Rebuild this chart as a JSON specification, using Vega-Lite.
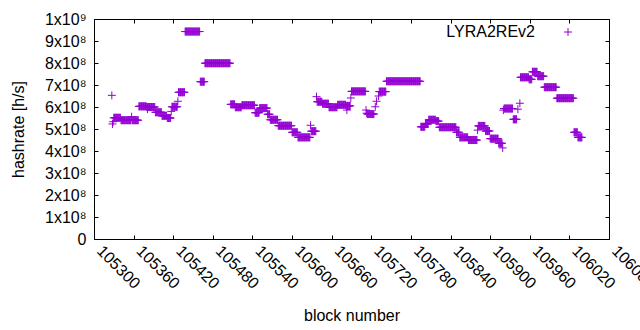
{
"$schema": "https://vega.github.io/schema/vega-lite/v6.json",
"width": 515, "height": 220,
"autosize": "none",
"padding": {"left": 94, "top": 19, "right": 31, "bottom": 91},
"background": "white",
"config": {
  "view": {"stroke": "black", "strokeWidth": 1},
  "font": "Liberation Sans",
  "axis": {"domain": false, "grid": false, "tickColor": "black", "tickSize": -4, "labelColor": "black", "labelFontSize": 16, "titleFontSize": 16, "titleFontWeight": "normal", "titleColor": "black", "labelFont": "Liberation Sans", "titleFont": "Liberation Sans"}
},
"data": {"values": [
{"b":105327,"h":6.53e8},{"b":105328,"h":5.23e8},{"b":105329,"h":5.33e8},
{"b":105330,"h":5.51e8},{"b":105331,"h":5.51e8},{"b":105332,"h":5.51e8},{"b":105333,"h":5.51e8},{"b":105334,"h":5.51e8},{"b":105335,"h":5.51e8},{"b":105336,"h":5.51e8},{"b":105337,"h":5.51e8},{"b":105338,"h":5.51e8},{"b":105339,"h":5.51e8},{"b":105340,"h":5.51e8},
{"b":105341,"h":5.40e8},{"b":105342,"h":5.40e8},{"b":105343,"h":5.40e8},{"b":105344,"h":5.40e8},{"b":105345,"h":5.40e8},{"b":105346,"h":5.40e8},{"b":105347,"h":5.40e8},{"b":105348,"h":5.40e8},{"b":105349,"h":5.40e8},{"b":105350,"h":5.40e8},{"b":105351,"h":5.40e8},{"b":105352,"h":5.40e8},{"b":105353,"h":5.40e8},{"b":105354,"h":5.40e8},{"b":105355,"h":5.40e8},{"b":105356,"h":5.40e8},
{"b":105357,"h":5.56e8},
{"b":105358,"h":5.40e8},{"b":105359,"h":5.40e8},{"b":105360,"h":5.40e8},{"b":105361,"h":5.40e8},{"b":105362,"h":5.40e8},{"b":105363,"h":5.40e8},{"b":105364,"h":5.40e8},{"b":105365,"h":5.40e8},{"b":105366,"h":5.40e8},{"b":105367,"h":5.40e8},
{"b":105368,"h":6.03e8},{"b":105369,"h":6.03e8},{"b":105370,"h":6.03e8},{"b":105371,"h":6.03e8},{"b":105372,"h":6.03e8},{"b":105373,"h":6.03e8},{"b":105374,"h":6.03e8},{"b":105375,"h":6.03e8},{"b":105376,"h":6.03e8},{"b":105377,"h":6.03e8},{"b":105378,"h":6.03e8},{"b":105379,"h":6.03e8},
{"b":105380,"h":6.00e8},{"b":105381,"h":6.00e8},{"b":105381,"h":5.90e8},{"b":105382,"h":6.00e8},{"b":105383,"h":6.00e8},{"b":105384,"h":6.00e8},{"b":105385,"h":6.00e8},{"b":105386,"h":6.00e8},{"b":105387,"h":6.00e8},{"b":105388,"h":6.00e8},{"b":105389,"h":6.00e8},{"b":105390,"h":6.00e8},{"b":105391,"h":6.00e8},{"b":105392,"h":6.00e8},
{"b":105393,"h":5.76e8},{"b":105394,"h":5.76e8},{"b":105395,"h":5.76e8},{"b":105396,"h":5.76e8},{"b":105397,"h":5.76e8},{"b":105398,"h":5.76e8},{"b":105399,"h":5.76e8},{"b":105400,"h":5.76e8},{"b":105401,"h":5.76e8},{"b":105402,"h":5.76e8},
{"b":105403,"h":5.60e8},{"b":105404,"h":5.60e8},{"b":105405,"h":5.60e8},{"b":105406,"h":5.60e8},{"b":105407,"h":5.60e8},{"b":105408,"h":5.60e8},{"b":105409,"h":5.60e8},{"b":105410,"h":5.60e8},
{"b":105411,"h":5.50e8},{"b":105412,"h":5.50e8},{"b":105413,"h":5.50e8},{"b":105414,"h":5.50e8},{"b":105415,"h":5.50e8},{"b":105416,"h":5.50e8},
{"b":105417,"h":5.80e8},
{"b":105418,"h":6.01e8},{"b":105419,"h":6.01e8},{"b":105420,"h":6.01e8},{"b":105421,"h":6.01e8},{"b":105422,"h":6.01e8},{"b":105423,"h":6.01e8},{"b":105424,"h":6.01e8},{"b":105425,"h":6.01e8},{"b":105426,"h":6.01e8},
{"b":105427,"h":6.26e8},
{"b":105428,"h":6.67e8},{"b":105429,"h":6.67e8},{"b":105430,"h":6.67e8},{"b":105431,"h":6.67e8},{"b":105432,"h":6.67e8},{"b":105433,"h":6.67e8},{"b":105434,"h":6.67e8},{"b":105435,"h":6.67e8},{"b":105436,"h":6.67e8},{"b":105437,"h":6.67e8},
{"b":105438,"h":9.43e8},{"b":105439,"h":9.43e8},{"b":105440,"h":9.43e8},{"b":105441,"h":9.43e8},{"b":105442,"h":9.43e8},{"b":105443,"h":9.43e8},{"b":105444,"h":9.43e8},{"b":105445,"h":9.43e8},{"b":105446,"h":9.43e8},{"b":105447,"h":9.43e8},{"b":105448,"h":9.43e8},{"b":105449,"h":9.43e8},{"b":105450,"h":9.43e8},{"b":105451,"h":9.43e8},{"b":105452,"h":9.43e8},{"b":105453,"h":9.43e8},{"b":105454,"h":9.43e8},{"b":105455,"h":9.43e8},{"b":105456,"h":9.43e8},{"b":105457,"h":9.43e8},{"b":105458,"h":9.43e8},{"b":105459,"h":9.43e8},{"b":105460,"h":9.43e8},
{"b":105461,"h":7.15e8},{"b":105462,"h":7.15e8},{"b":105463,"h":7.15e8},{"b":105464,"h":7.15e8},{"b":105465,"h":7.15e8},{"b":105466,"h":7.15e8},{"b":105467,"h":7.15e8},
{"b":105468,"h":7.99e8},{"b":105469,"h":7.99e8},{"b":105470,"h":7.99e8},{"b":105471,"h":7.99e8},{"b":105472,"h":7.99e8},{"b":105473,"h":7.99e8},{"b":105474,"h":7.99e8},{"b":105475,"h":7.99e8},{"b":105476,"h":7.99e8},{"b":105477,"h":7.99e8},{"b":105478,"h":7.99e8},{"b":105479,"h":7.99e8},{"b":105480,"h":7.99e8},{"b":105481,"h":7.99e8},{"b":105482,"h":7.99e8},{"b":105483,"h":7.99e8},{"b":105484,"h":7.99e8},{"b":105485,"h":7.99e8},{"b":105486,"h":7.99e8},{"b":105487,"h":7.99e8},{"b":105488,"h":7.99e8},{"b":105489,"h":7.99e8},{"b":105490,"h":7.99e8},{"b":105491,"h":7.99e8},{"b":105492,"h":7.99e8},{"b":105493,"h":7.99e8},{"b":105494,"h":7.99e8},{"b":105495,"h":7.99e8},{"b":105496,"h":7.99e8},{"b":105497,"h":7.99e8},{"b":105498,"h":7.99e8},{"b":105499,"h":7.99e8},{"b":105500,"h":7.99e8},{"b":105501,"h":7.99e8},{"b":105502,"h":7.99e8},{"b":105503,"h":7.99e8},{"b":105504,"h":7.99e8},{"b":105505,"h":7.99e8},{"b":105506,"h":7.99e8},
{"b":105507,"h":6.12e8},{"b":105508,"h":6.12e8},{"b":105509,"h":6.12e8},{"b":105510,"h":6.12e8},{"b":105511,"h":6.12e8},{"b":105512,"h":6.12e8},{"b":105513,"h":6.12e8},
{"b":105514,"h":5.99e8},{"b":105515,"h":5.99e8},{"b":105516,"h":5.99e8},{"b":105517,"h":5.99e8},{"b":105518,"h":5.99e8},{"b":105519,"h":5.99e8},{"b":105520,"h":5.99e8},{"b":105521,"h":5.99e8},{"b":105522,"h":5.99e8},{"b":105523,"h":5.99e8},
{"b":105524,"h":6.08e8},{"b":105525,"h":6.08e8},{"b":105526,"h":6.08e8},{"b":105527,"h":6.08e8},{"b":105528,"h":6.08e8},{"b":105529,"h":6.08e8},{"b":105530,"h":6.08e8},{"b":105531,"h":6.08e8},{"b":105532,"h":6.08e8},{"b":105533,"h":6.08e8},{"b":105534,"h":6.08e8},{"b":105535,"h":6.08e8},{"b":105536,"h":6.08e8},{"b":105537,"h":6.08e8},{"b":105538,"h":6.08e8},{"b":105539,"h":6.08e8},{"b":105540,"h":6.08e8},{"b":105541,"h":6.08e8},{"b":105542,"h":6.08e8},{"b":105543,"h":6.08e8},
{"b":105544,"h":5.74e8},{"b":105545,"h":5.74e8},{"b":105546,"h":5.74e8},{"b":105547,"h":5.74e8},{"b":105548,"h":5.74e8},{"b":105549,"h":5.74e8},{"b":105550,"h":5.74e8},
{"b":105551,"h":5.95e8},{"b":105552,"h":5.95e8},{"b":105553,"h":5.95e8},{"b":105554,"h":5.95e8},{"b":105555,"h":5.95e8},{"b":105556,"h":5.95e8},{"b":105557,"h":5.95e8},{"b":105558,"h":5.95e8},{"b":105559,"h":5.95e8},{"b":105560,"h":5.95e8},{"b":105561,"h":5.95e8},{"b":105562,"h":5.95e8},
{"b":105563,"h":5.67e8},{"b":105564,"h":5.67e8},{"b":105565,"h":5.67e8},{"b":105566,"h":5.67e8},
{"b":105567,"h":5.42e8},{"b":105568,"h":5.42e8},{"b":105569,"h":5.42e8},{"b":105570,"h":5.42e8},{"b":105571,"h":5.42e8},{"b":105572,"h":5.42e8},{"b":105573,"h":5.42e8},{"b":105574,"h":5.42e8},{"b":105575,"h":5.42e8},{"b":105576,"h":5.42e8},{"b":105577,"h":5.42e8},{"b":105578,"h":5.42e8},
{"b":105579,"h":5.15e8},{"b":105580,"h":5.15e8},{"b":105581,"h":5.15e8},{"b":105582,"h":5.15e8},{"b":105583,"h":5.15e8},{"b":105584,"h":5.15e8},{"b":105585,"h":5.15e8},{"b":105586,"h":5.15e8},{"b":105587,"h":5.15e8},{"b":105588,"h":5.15e8},{"b":105589,"h":5.15e8},{"b":105590,"h":5.15e8},{"b":105591,"h":5.15e8},{"b":105592,"h":5.15e8},{"b":105593,"h":5.15e8},{"b":105594,"h":5.15e8},{"b":105595,"h":5.15e8},{"b":105596,"h":5.15e8},{"b":105597,"h":5.15e8},{"b":105598,"h":5.15e8},{"b":105599,"h":5.15e8},
{"b":105600,"h":4.85e8},{"b":105601,"h":4.85e8},{"b":105602,"h":4.85e8},{"b":105603,"h":4.85e8},{"b":105604,"h":4.85e8},{"b":105605,"h":4.85e8},{"b":105606,"h":4.85e8},{"b":105607,"h":4.85e8},{"b":105608,"h":4.85e8},
{"b":105609,"h":4.62e8},{"b":105610,"h":4.62e8},{"b":105611,"h":4.62e8},{"b":105612,"h":4.62e8},{"b":105613,"h":4.62e8},{"b":105614,"h":4.62e8},{"b":105615,"h":4.62e8},{"b":105616,"h":4.62e8},{"b":105617,"h":4.62e8},{"b":105618,"h":4.62e8},{"b":105619,"h":4.62e8},{"b":105620,"h":4.62e8},{"b":105621,"h":4.62e8},{"b":105622,"h":4.62e8},{"b":105623,"h":4.62e8},{"b":105624,"h":4.62e8},{"b":105625,"h":4.62e8},{"b":105626,"h":4.62e8},{"b":105627,"h":4.62e8},
{"b":105628,"h":5.17e8},
{"b":105629,"h":4.90e8},{"b":105630,"h":4.90e8},{"b":105631,"h":4.90e8},{"b":105632,"h":4.90e8},{"b":105633,"h":4.90e8},{"b":105634,"h":4.90e8},{"b":105635,"h":4.90e8},{"b":105636,"h":4.90e8},
{"b":105637,"h":6.47e8},
{"b":105638,"h":6.24e8},{"b":105639,"h":6.24e8},{"b":105640,"h":6.24e8},{"b":105641,"h":6.24e8},{"b":105642,"h":6.24e8},{"b":105643,"h":6.24e8},{"b":105644,"h":6.24e8},{"b":105645,"h":6.24e8},
{"b":105646,"h":6.15e8},{"b":105647,"h":6.15e8},{"b":105648,"h":6.15e8},{"b":105649,"h":6.15e8},{"b":105650,"h":6.15e8},{"b":105651,"h":6.15e8},{"b":105652,"h":6.15e8},{"b":105653,"h":6.15e8},{"b":105654,"h":6.15e8},{"b":105655,"h":6.15e8},
{"b":105656,"h":5.99e8},{"b":105657,"h":5.99e8},{"b":105658,"h":5.99e8},{"b":105659,"h":5.99e8},{"b":105660,"h":5.99e8},{"b":105661,"h":5.99e8},{"b":105662,"h":5.99e8},{"b":105663,"h":5.99e8},{"b":105664,"h":5.99e8},{"b":105665,"h":5.99e8},{"b":105666,"h":5.99e8},{"b":105667,"h":5.99e8},{"b":105668,"h":5.99e8},
{"b":105669,"h":6.10e8},{"b":105670,"h":6.10e8},{"b":105671,"h":6.10e8},{"b":105672,"h":6.10e8},{"b":105673,"h":6.10e8},{"b":105674,"h":6.10e8},{"b":105675,"h":6.10e8},{"b":105676,"h":6.10e8},{"b":105677,"h":6.10e8},{"b":105678,"h":6.10e8},{"b":105679,"h":6.10e8},{"b":105680,"h":6.10e8},{"b":105681,"h":6.10e8},
{"b":105682,"h":6.05e8},{"b":105683,"h":6.05e8},{"b":105683,"h":5.86e8},{"b":105684,"h":6.05e8},{"b":105685,"h":6.05e8},{"b":105686,"h":6.05e8},{"b":105687,"h":6.05e8},{"b":105688,"h":6.05e8},
{"b":105689,"h":6.41e8},
{"b":105690,"h":6.71e8},{"b":105691,"h":6.71e8},{"b":105692,"h":6.71e8},{"b":105693,"h":6.71e8},{"b":105694,"h":6.71e8},{"b":105695,"h":6.71e8},{"b":105696,"h":6.71e8},{"b":105697,"h":6.71e8},{"b":105698,"h":6.71e8},{"b":105699,"h":6.71e8},{"b":105700,"h":6.71e8},{"b":105701,"h":6.71e8},{"b":105702,"h":6.71e8},{"b":105703,"h":6.71e8},{"b":105704,"h":6.71e8},{"b":105705,"h":6.71e8},{"b":105706,"h":6.71e8},{"b":105707,"h":6.71e8},{"b":105708,"h":6.71e8},{"b":105709,"h":6.71e8},{"b":105710,"h":6.71e8},{"b":105711,"h":6.71e8},
{"b":105712,"h":5.86e8},{"b":105713,"h":5.72e8},
{"b":105714,"h":5.68e8},{"b":105715,"h":5.68e8},{"b":105716,"h":5.68e8},{"b":105717,"h":5.68e8},{"b":105718,"h":5.68e8},{"b":105719,"h":5.68e8},{"b":105720,"h":5.68e8},{"b":105721,"h":5.68e8},{"b":105722,"h":5.68e8},{"b":105723,"h":5.68e8},{"b":105724,"h":5.68e8},
{"b":105726,"h":6.01e8},{"b":105728,"h":6.26e8},{"b":105731,"h":6.50e8},
{"b":105732,"h":6.70e8},{"b":105733,"h":6.70e8},{"b":105734,"h":6.70e8},{"b":105735,"h":6.70e8},{"b":105736,"h":6.70e8},{"b":105737,"h":6.70e8},{"b":105738,"h":6.70e8},{"b":105739,"h":6.70e8},{"b":105740,"h":6.70e8},{"b":105741,"h":6.70e8},{"b":105742,"h":6.70e8},
{"b":105743,"h":7.17e8},{"b":105744,"h":7.17e8},{"b":105745,"h":7.17e8},{"b":105746,"h":7.17e8},{"b":105747,"h":7.17e8},{"b":105748,"h":7.17e8},{"b":105749,"h":7.17e8},{"b":105750,"h":7.17e8},{"b":105751,"h":7.17e8},{"b":105752,"h":7.17e8},{"b":105753,"h":7.17e8},{"b":105754,"h":7.17e8},{"b":105755,"h":7.17e8},{"b":105756,"h":7.17e8},{"b":105757,"h":7.17e8},{"b":105758,"h":7.17e8},{"b":105759,"h":7.17e8},{"b":105760,"h":7.17e8},{"b":105761,"h":7.17e8},{"b":105762,"h":7.17e8},{"b":105763,"h":7.17e8},{"b":105764,"h":7.17e8},{"b":105765,"h":7.17e8},{"b":105766,"h":7.17e8},{"b":105767,"h":7.17e8},{"b":105768,"h":7.17e8},{"b":105769,"h":7.17e8},{"b":105770,"h":7.17e8},{"b":105771,"h":7.17e8},{"b":105772,"h":7.17e8},{"b":105773,"h":7.17e8},{"b":105774,"h":7.17e8},{"b":105775,"h":7.17e8},{"b":105776,"h":7.17e8},{"b":105777,"h":7.17e8},{"b":105778,"h":7.17e8},{"b":105779,"h":7.17e8},{"b":105780,"h":7.17e8},{"b":105781,"h":7.17e8},{"b":105782,"h":7.17e8},{"b":105783,"h":7.17e8},{"b":105784,"h":7.17e8},{"b":105785,"h":7.17e8},{"b":105786,"h":7.17e8},{"b":105787,"h":7.17e8},{"b":105788,"h":7.17e8},{"b":105789,"h":7.17e8},{"b":105790,"h":7.17e8},{"b":105791,"h":7.17e8},{"b":105792,"h":7.17e8},{"b":105793,"h":7.17e8},{"b":105794,"h":7.17e8},
{"b":105795,"h":5.10e8},{"b":105796,"h":5.10e8},{"b":105797,"h":5.10e8},{"b":105798,"h":5.10e8},{"b":105799,"h":5.10e8},{"b":105800,"h":5.10e8},{"b":105801,"h":5.10e8},
{"b":105802,"h":5.23e8},{"b":105803,"h":5.23e8},{"b":105804,"h":5.23e8},{"b":105805,"h":5.23e8},{"b":105806,"h":5.23e8},
{"b":105807,"h":5.42e8},{"b":105808,"h":5.42e8},{"b":105809,"h":5.42e8},{"b":105810,"h":5.42e8},{"b":105811,"h":5.42e8},{"b":105812,"h":5.42e8},{"b":105813,"h":5.42e8},{"b":105814,"h":5.42e8},{"b":105815,"h":5.42e8},{"b":105816,"h":5.42e8},{"b":105817,"h":5.42e8},
{"b":105818,"h":5.36e8},{"b":105819,"h":5.36e8},{"b":105820,"h":5.36e8},{"b":105821,"h":5.36e8},{"b":105822,"h":5.36e8},
{"b":105823,"h":5.08e8},{"b":105824,"h":5.08e8},{"b":105825,"h":5.08e8},{"b":105826,"h":5.08e8},{"b":105827,"h":5.08e8},{"b":105828,"h":5.08e8},{"b":105829,"h":5.08e8},{"b":105830,"h":5.08e8},{"b":105831,"h":5.08e8},{"b":105832,"h":5.08e8},{"b":105833,"h":5.08e8},{"b":105834,"h":5.08e8},{"b":105835,"h":5.08e8},{"b":105836,"h":5.08e8},{"b":105837,"h":5.08e8},{"b":105838,"h":5.08e8},{"b":105839,"h":5.08e8},{"b":105840,"h":5.08e8},{"b":105841,"h":5.08e8},{"b":105842,"h":5.08e8},{"b":105843,"h":5.08e8},{"b":105844,"h":5.08e8},{"b":105845,"h":5.08e8},{"b":105846,"h":5.08e8},{"b":105847,"h":5.08e8},{"b":105848,"h":5.08e8},
{"b":105849,"h":4.85e8},{"b":105850,"h":4.85e8},{"b":105851,"h":4.85e8},{"b":105852,"h":4.85e8},{"b":105853,"h":4.85e8},
{"b":105854,"h":4.62e8},{"b":105855,"h":4.62e8},{"b":105856,"h":4.62e8},{"b":105857,"h":4.62e8},{"b":105858,"h":4.62e8},{"b":105859,"h":4.62e8},{"b":105860,"h":4.62e8},{"b":105861,"h":4.62e8},{"b":105862,"h":4.62e8},{"b":105863,"h":4.62e8},{"b":105864,"h":4.62e8},{"b":105865,"h":4.62e8},{"b":105866,"h":4.62e8},
{"b":105867,"h":4.50e8},{"b":105868,"h":4.50e8},{"b":105869,"h":4.50e8},{"b":105870,"h":4.50e8},{"b":105871,"h":4.50e8},{"b":105872,"h":4.50e8},{"b":105873,"h":4.50e8},{"b":105874,"h":4.50e8},{"b":105875,"h":4.50e8},{"b":105876,"h":4.50e8},{"b":105877,"h":4.50e8},{"b":105878,"h":4.50e8},{"b":105879,"h":4.50e8},{"b":105880,"h":4.50e8},
{"b":105881,"h":4.95e8},
{"b":105882,"h":5.14e8},{"b":105883,"h":5.14e8},{"b":105884,"h":5.14e8},{"b":105885,"h":5.14e8},{"b":105886,"h":5.14e8},{"b":105887,"h":5.14e8},{"b":105888,"h":5.14e8},{"b":105889,"h":5.14e8},{"b":105890,"h":5.14e8},{"b":105891,"h":5.14e8},{"b":105892,"h":5.14e8},
{"b":105893,"h":4.91e8},{"b":105894,"h":4.91e8},{"b":105895,"h":4.91e8},{"b":105896,"h":4.91e8},{"b":105897,"h":4.91e8},{"b":105898,"h":4.91e8},{"b":105899,"h":4.91e8},
{"b":105900,"h":4.56e8},{"b":105901,"h":4.56e8},{"b":105902,"h":4.56e8},{"b":105903,"h":4.56e8},{"b":105904,"h":4.56e8},{"b":105905,"h":4.56e8},{"b":105906,"h":4.56e8},{"b":105907,"h":4.56e8},{"b":105908,"h":4.56e8},{"b":105909,"h":4.56e8},{"b":105910,"h":4.56e8},{"b":105911,"h":4.56e8},{"b":105912,"h":4.56e8},
{"b":105913,"h":4.35e8},{"b":105914,"h":4.35e8},{"b":105915,"h":4.35e8},{"b":105916,"h":4.35e8},{"b":105917,"h":4.35e8},{"b":105918,"h":4.35e8},
{"b":105919,"h":4.14e8},{"b":105920,"h":5.86e8},
{"b":105921,"h":5.93e8},{"b":105922,"h":5.93e8},{"b":105923,"h":5.93e8},{"b":105924,"h":5.93e8},{"b":105925,"h":5.93e8},{"b":105926,"h":5.93e8},{"b":105927,"h":5.93e8},{"b":105928,"h":5.93e8},{"b":105929,"h":5.93e8},{"b":105930,"h":5.93e8},{"b":105931,"h":5.93e8},{"b":105932,"h":5.93e8},{"b":105933,"h":5.93e8},{"b":105934,"h":5.93e8},
{"b":105935,"h":5.44e8},{"b":105936,"h":5.44e8},{"b":105937,"h":5.44e8},{"b":105938,"h":5.44e8},{"b":105939,"h":5.44e8},{"b":105940,"h":5.44e8},
{"b":105942,"h":5.90e8},{"b":105945,"h":6.17e8},
{"b":105946,"h":7.35e8},{"b":105947,"h":7.35e8},{"b":105948,"h":7.35e8},{"b":105949,"h":7.35e8},{"b":105950,"h":7.35e8},{"b":105951,"h":7.35e8},{"b":105952,"h":7.35e8},{"b":105953,"h":7.35e8},{"b":105954,"h":7.35e8},{"b":105955,"h":7.35e8},{"b":105956,"h":7.35e8},{"b":105957,"h":7.35e8},{"b":105958,"h":7.35e8},
{"b":105959,"h":7.26e8},{"b":105960,"h":7.26e8},{"b":105961,"h":7.26e8},{"b":105962,"h":7.26e8},{"b":105963,"h":7.26e8},
{"b":105964,"h":7.60e8},{"b":105965,"h":7.60e8},{"b":105966,"h":7.60e8},{"b":105967,"h":7.60e8},{"b":105968,"h":7.60e8},{"b":105969,"h":7.60e8},{"b":105970,"h":7.60e8},{"b":105971,"h":7.60e8},
{"b":105972,"h":7.40e8},{"b":105973,"h":7.40e8},{"b":105974,"h":7.40e8},{"b":105975,"h":7.40e8},{"b":105976,"h":7.40e8},{"b":105977,"h":7.40e8},{"b":105978,"h":7.40e8},{"b":105979,"h":7.40e8},{"b":105980,"h":7.40e8},{"b":105981,"h":7.40e8},
{"b":105982,"h":6.90e8},{"b":105983,"h":6.90e8},{"b":105984,"h":6.90e8},{"b":105985,"h":6.90e8},{"b":105986,"h":6.90e8},{"b":105987,"h":6.90e8},{"b":105988,"h":6.90e8},{"b":105989,"h":6.90e8},{"b":105990,"h":6.90e8},{"b":105991,"h":6.90e8},{"b":105992,"h":6.90e8},{"b":105993,"h":6.90e8},{"b":105994,"h":6.90e8},{"b":105995,"h":6.90e8},{"b":105996,"h":6.90e8},{"b":105997,"h":6.90e8},{"b":105998,"h":6.90e8},{"b":105999,"h":6.90e8},{"b":106000,"h":6.90e8},
{"b":106001,"h":6.40e8},{"b":106002,"h":6.40e8},{"b":106003,"h":6.40e8},{"b":106004,"h":6.40e8},{"b":106005,"h":6.40e8},{"b":106006,"h":6.40e8},{"b":106007,"h":6.40e8},{"b":106008,"h":6.40e8},{"b":106009,"h":6.40e8},{"b":106010,"h":6.40e8},{"b":106011,"h":6.40e8},{"b":106012,"h":6.40e8},{"b":106013,"h":6.40e8},{"b":106014,"h":6.40e8},{"b":106015,"h":6.40e8},{"b":106016,"h":6.40e8},{"b":106017,"h":6.40e8},{"b":106018,"h":6.40e8},{"b":106019,"h":6.40e8},{"b":106020,"h":6.40e8},{"b":106021,"h":6.40e8},{"b":106022,"h":6.40e8},{"b":106023,"h":6.40e8},{"b":106024,"h":6.40e8},{"b":106025,"h":6.40e8},{"b":106026,"h":6.40e8},
{"b":106027,"h":4.85e8},{"b":106028,"h":4.85e8},{"b":106029,"h":4.85e8},{"b":106030,"h":4.85e8},{"b":106031,"h":4.85e8},{"b":106032,"h":4.85e8},
{"b":106033,"h":4.62e8},{"b":106034,"h":4.62e8},{"b":106035,"h":4.62e8},{"b":106036,"h":4.62e8},{"b":106037,"h":4.62e8},{"b":106038,"h":4.62e8},{"b":106039,"h":4.62e8}
]},
"layer": [
  {
    "mark": {"type": "point", "shape": "M-1,0L1,0M0,-1L0,1", "filled": false, "size": 64, "strokeWidth": 1, "opacity": 1},
    "encoding": {
      "x": {"field": "b", "type": "quantitative",
            "scale": {"domain": [105300, 106080], "nice": false, "zero": false},
            "axis": {"orient": "bottom", "title": "block number",
                     "values": [105300,105360,105420,105480,105540,105600,105660,105720,105780,105840,105900,105960,106020,106080],
                     "format": "d", "labelAngle": 45, "labelAlign": "left", "labelBaseline": "middle",
                     "labelPadding": 13, "labelOffset": 5, "labelFlush": false, "labelOverlap": false, "titlePadding": 16}},
      "y": {"field": "h", "type": "quantitative",
            "scale": {"domain": [0, 1000000000], "nice": false},
            "axis": {"orient": "left", "title": "hashrate [h/s]",
                     "values": [0,100000000,200000000,300000000,400000000,500000000,600000000,700000000,800000000,900000000,1000000000],
                     "labelExpr": "datum.value == 0 ? '0' : (datum.value >= 1000000000 ? '1x10⁹' : format(datum.value/100000000, 'd') + 'x10⁸')",
                     "labelPadding": 12, "titlePadding": 18}},
      "color": {"datum": "LYRA2REv2", "type": "nominal", "scale": {"range": ["#9400D3"]},
                "legend": {"orient": "none", "legendX": 466, "legendY": 5, "title": null, "padding": 0,
                           "labelAlign": "right", "labelOffset": -41, "labelFontSize": 16, "labelColor": "black", "labelFont": "Liberation Sans",
                           "symbolType": "M-1,0L1,0M0,-1L0,1", "symbolSize": 64, "symbolStrokeWidth": 1, "symbolFillColor": "transparent"}}
    }
  },
  {
    "data": {"values": [{"b": 105300, "h": 0}]},
    "mark": {"type": "point", "opacity": 0},
    "encoding": {
      "x": {"field": "b", "type": "quantitative",
            "axis": {"orient": "top", "title": null, "labels": false,
                     "values": [105300,105360,105420,105480,105540,105600,105660,105720,105780,105840,105900,105960,106020,106080]}},
      "y": {"field": "h", "type": "quantitative",
            "axis": {"orient": "right", "title": null, "labels": false,
                     "values": [0,100000000,200000000,300000000,400000000,500000000,600000000,700000000,800000000,900000000,1000000000]}}
    }
  }
],
"resolve": {"axis": {"x": "independent", "y": "independent"}}
}
